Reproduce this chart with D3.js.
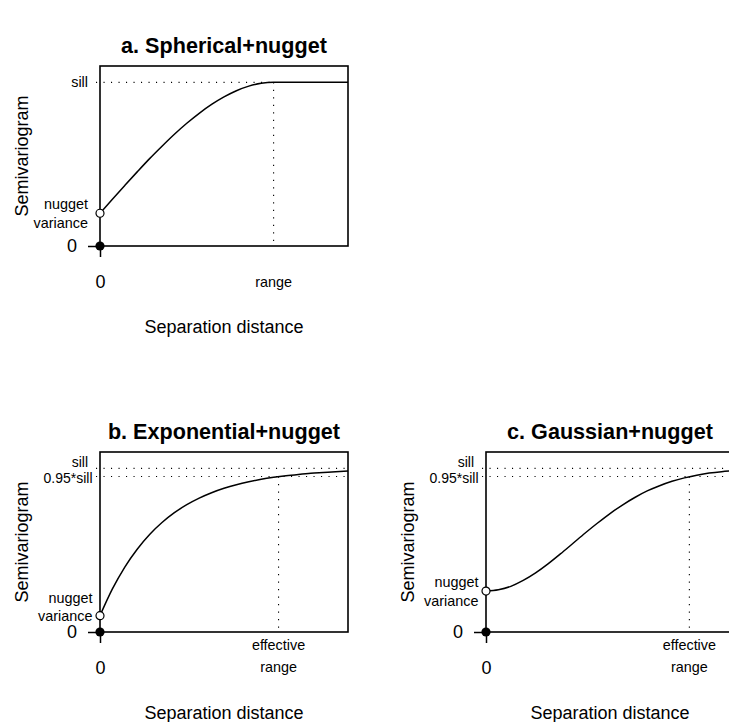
<!DOCTYPE html>
<html>
<head>
<meta charset="utf-8">
<script src="https://cdn.jsdelivr.net/npm/d3@7"></script>
<style>
  html, body { margin: 0; padding: 0; background: #fff; }
  svg { display: block; font-family: "Liberation Sans", Arial, Helvetica, sans-serif; }
</style>
</head>
<body>
<svg id="chart" width="729" height="722"></svg>
<script>
// Separation distances at which each semivariogram curve is tabulated
const distances = [0, 0.5, 1, 1.5, 2, 2.5, 3, 3.5, 4, 4.5, 5, 5.5, 6, 6.5, 7, 7.5, 8, 8.5, 9, 9.5, 10];

// Semivariance values (sill = 1)
const sphericalGamma = [0.200, 0.286, 0.370, 0.453, 0.534, 0.610, 0.683, 0.750, 0.811, 0.865, 0.911, 0.949, 0.977, 0.994, 1.000, 1.000, 1.000, 1.000, 1.000, 1.000, 1.000];
const exponentialGamma = [0.100, 0.263, 0.397, 0.506, 0.596, 0.669, 0.729, 0.778, 0.818, 0.851, 0.878, 0.900, 0.918, 0.933, 0.945, 0.955, 0.963, 0.970, 0.975, 0.980, 0.984];
const gaussianGamma = [0.250, 0.258, 0.279, 0.315, 0.361, 0.416, 0.477, 0.541, 0.605, 0.666, 0.724, 0.776, 0.822, 0.862, 0.894, 0.921, 0.942, 0.958, 0.971, 0.980, 0.986];

const panelTitles = ["a. Spherical+nugget", "b. Exponential+nugget", "c. Gaussian+nugget"];
const nuggetValues = [0.2, 0.1, 0.25];
const rangeValues = [7, 7.2, 8.2];
const rangeLabels = [["range"], ["effective", "range"], ["effective", "range"]];
const sillValue = 1;
const practicalFraction = 0.95;
const xDomain = [0, 10];
const yDomain = [0, 1.1];
const xTitle = "Separation distance";
const yTitle = "Semivariogram";

const panels = [
  { title: panelTitles[0], gamma: sphericalGamma, nugget: nuggetValues[0], range: rangeValues[0],
    rangeText: rangeLabels[0], effective: false, left: 100, top: 66, nuggetShift: 0, labelGap: 12 },
  { title: panelTitles[1], gamma: exponentialGamma, nugget: nuggetValues[1], range: rangeValues[1],
    rangeText: rangeLabels[1], effective: true, left: 100, top: 452, nuggetShift: -9, labelGap: 7.5 },
  { title: panelTitles[2], gamma: gaussianGamma, nugget: nuggetValues[2], range: rangeValues[2],
    rangeText: rangeLabels[2], effective: true, left: 486, top: 452, nuggetShift: 0, labelGap: 7.5 }
];

const W = 248, H = 180;
const svg = d3.select("#chart");
svg.append("rect").attr("width", 729).attr("height", 722).attr("fill", "#fff");

const dotted = s => s.attr("stroke", "#000").attr("stroke-width", 1.1)
  .attr("stroke-dasharray", "1.1 6.4").attr("fill", "none");

panels.forEach(p => {
  const g = svg.append("g").attr("transform", `translate(${p.left},${p.top})`);
  const x = d3.scaleLinear().domain(xDomain).range([0, W]);
  const y = d3.scaleLinear().domain(yDomain).range([H, 0]);

  // title
  g.append("text").attr("x", W / 2).attr("y", -13)
    .attr("text-anchor", "middle").attr("font-size", 21.6).attr("font-weight", "bold")
    .text(p.title);

  // reference lines
  const sillY = y(sillValue);
  if (p.effective) {
    const effY = y(practicalFraction * sillValue);
    g.append("line").attr("x1", -4).attr("x2", W).attr("y1", sillY).attr("y2", sillY).call(dotted);
    g.append("line").attr("x1", -4).attr("x2", W).attr("y1", effY).attr("y2", effY).call(dotted);
    g.append("line").attr("x1", x(p.range)).attr("x2", x(p.range)).attr("y1", effY).attr("y2", H).call(dotted);
  } else {
    g.append("line").attr("x1", -4).attr("x2", x(p.range)).attr("y1", sillY).attr("y2", sillY).call(dotted);
    g.append("line").attr("x1", x(p.range)).attr("x2", x(p.range)).attr("y1", sillY).attr("y2", H).call(dotted);
  }

  // semivariogram curve
  const line = d3.line().x((d, i) => x(distances[i])).y(d => y(d)).curve(d3.curveMonotoneX);
  g.append("path").datum(p.gamma).attr("d", line)
    .attr("fill", "none").attr("stroke", "#000").attr("stroke-width", 1.5);

  // plot frame
  g.append("rect").attr("width", W).attr("height", H)
    .attr("fill", "none").attr("stroke", "#000").attr("stroke-width", 1.6);

  // axes with a single tick at zero
  const xAxis = g.append("g").attr("transform", `translate(0,${H})`)
    .call(d3.axisBottom(x).tickValues([0]).tickSize(11).tickPadding(18.5).tickFormat(d3.format("d")));
  const yAxis = g.append("g")
    .call(d3.axisLeft(y).tickValues([0]).tickSize(12).tickPadding(11).tickFormat(d3.format("d")));
  [xAxis, yAxis].forEach(a => {
    a.select(".domain").remove();
    a.selectAll("line").attr("stroke", "#000").attr("stroke-width", 1.5);
    a.selectAll("text").attr("font-size", 18).attr("fill", "#000")
      .attr("font-family", "\"Liberation Sans\", Arial, sans-serif");
  });

  // range label under the axis
  const rl = g.append("text").attr("text-anchor", "middle").attr("font-size", 14.4)
    .attr("x", x(p.range));
  if (p.rangeText.length === 1) {
    rl.append("tspan").attr("x", x(p.range)).attr("y", H + 41).text(p.rangeText[0]);
  } else {
    rl.append("tspan").attr("x", x(p.range)).attr("y", H + 18).text(p.rangeText[0]);
    rl.append("tspan").attr("x", x(p.range)).attr("y", H + 40).text(p.rangeText[1]);
  }

  // sill labels
  if (p.effective) {
    g.append("text").attr("x", -12).attr("y", sillY - 6).attr("dy", "0.35em")
      .attr("text-anchor", "end").attr("font-size", 14).text("sill");
    g.append("text").attr("x", -7.5).attr("y", y(practicalFraction * sillValue) + 1.5).attr("dy", "0.35em")
      .attr("text-anchor", "end").attr("font-size", 14).text("0.95*sill");
  } else {
    g.append("text").attr("x", -12).attr("y", sillY).attr("dy", "0.35em")
      .attr("text-anchor", "end").attr("font-size", 14.4).text("sill");
  }

  // nugget labels
  const ny = y(p.nugget) + p.nuggetShift;
  g.append("text").attr("x", -p.labelGap).attr("y", ny - 9).attr("dy", "0.35em")
    .attr("text-anchor", "end").attr("font-size", 14.4).text("nugget");
  g.append("text").attr("x", -p.labelGap).attr("y", ny + 9.5).attr("dy", "0.35em")
    .attr("text-anchor", "end").attr("font-size", 14.4).text("variance");

  // nugget (open) and origin (filled) markers
  g.append("circle").attr("cx", x(0)).attr("cy", y(p.nugget)).attr("r", 4)
    .attr("fill", "#fff").attr("stroke", "#000").attr("stroke-width", 1.2);
  g.append("circle").attr("cx", x(0)).attr("cy", y(0)).attr("r", 4.6).attr("fill", "#000");

  // axis titles
  g.append("text").attr("x", W / 2).attr("y", H + 87)
    .attr("text-anchor", "middle").attr("font-size", 18).text(xTitle);
  g.append("text").attr("transform", `translate(-72,${H / 2}) rotate(-90)`)
    .attr("text-anchor", "middle").attr("font-size", 18).text(yTitle);
});
</script>
</body>
</html>
